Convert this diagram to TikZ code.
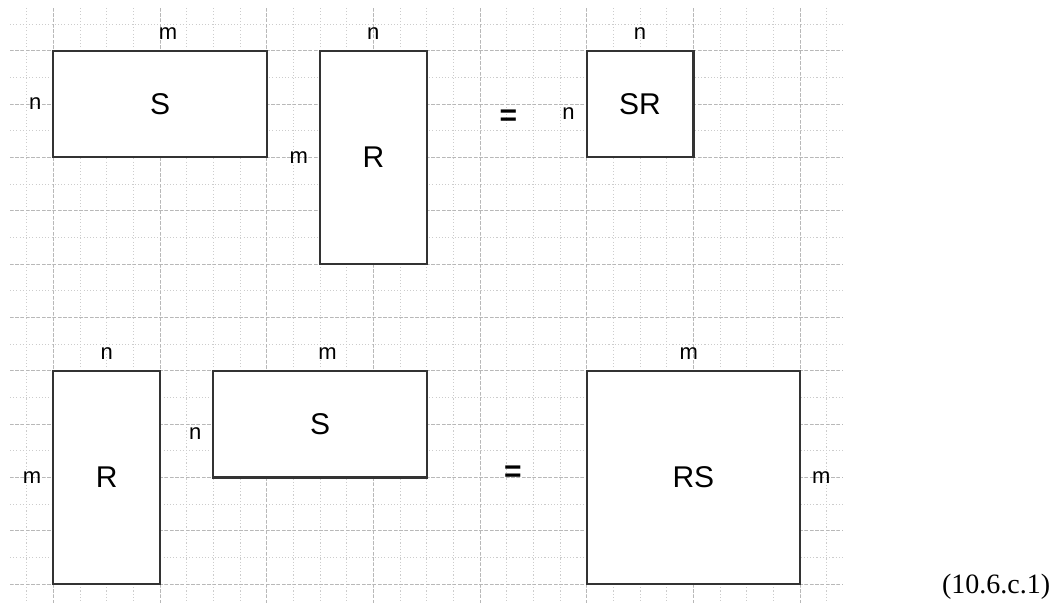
\documentclass[tikz,border=0pt]{standalone}
\usepackage{fontspec}
\setmainfont{Liberation Sans}
\newfontfamily\eqnfont{Liberation Serif}
\usepackage{tikz}
\usetikzlibrary{positioning}

\begin{document}
\begin{tikzpicture}[x=20pt,y=-20pt,
    mat/.style={draw=black!80, line width=1.7pt, fill=white, inner sep=0pt,
        font=\fontsize{22.5}{22.5}\selectfont},
    dim/.style={inner sep=0pt, text height=8.6pt, text depth=0pt,
        font=\fontsize{16.5}{16.5}\selectfont},
    eqsign/.style={inner sep=0pt, font=\fontsize{22.5}{22.5}\selectfont\bfseries},
    minorline/.style={black!20, line width=0.6pt, dash pattern=on 0.8pt off 1.6pt},
    majorline/.style={black!28, line width=0.6pt, dash pattern=on 2.5pt off 1.5pt}]
    \useasboundingbox (0,-0.9) rectangle (39.86,21.9);
    % Grid
    \foreach \i in {1,...,31}
        \draw[minorline] (\i,-0.6) -- (\i,21.7);
    \foreach \j in {0,...,21}
        \draw[minorline] (0.375,\j) -- (31.6,\j);
    \foreach \i in {2,6,...,30}
        \draw[majorline] (\i,-0.6) -- (\i,21.7);
    \foreach \j in {1,3,...,21}
        \draw[majorline] (0.375,\j) -- (31.6,\j);
    %
    % First product: S times R
    \node[mat, minimum width=160pt, minimum height=80pt] (S1) at (6,3) {S};
    \node[mat, minimum width=80pt, minimum height=160pt] (R1) at (14,5) {R};
    \node[eqsign] (eq1) at (19.06,3.5) {=};
    \node[mat, minimum width=80pt, minimum height=80pt] (SR) at (24,3) {SR};
    % Dimensions
    \node[dim, above=7.5pt of S1.north, xshift=6pt] (S1m) {m};
    \node[dim, left=8pt of S1.west] (S1n) {n};
    \node[dim, above=7.5pt of R1.north] (R1n) {n};
    \node[dim, left=8pt of R1.west] (R1m) {m};
    \node[dim, above=7.5pt of SR.north] (SRn1) {n};
    \node[dim, left=8pt of SR.west, yshift=-7.2pt] (SRn2) {n};
    %
    % Second product: R times S
    \node[mat, minimum width=80pt, minimum height=160pt] (R2) at (4,17) {R};
    \node[mat, minimum width=160pt, minimum height=80pt] (S2) at (12,15) {S};
    \node[eqsign] (eq2) at (19.23,16.88) {=};
    \node[mat, minimum width=160pt, minimum height=160pt] (RS) at (26,17) {RS};
    % Dimensions
    \node[dim, above=7.5pt of R2.north] (R2n) {n};
    \node[dim, left=8pt of R2.west] (R2m) {m};
    \node[dim, above=7.5pt of S2.north, xshift=5.7pt] (S2m) {m};
    \node[dim, left=8pt of S2.west, yshift=-7.5pt] (S2n) {n};
    \node[dim, above=7.5pt of RS.north, xshift=-3.5pt] (RSm1) {m};
    \node[dim, right=8pt of RS.east] (RSm2) {m};
    %
    % Equation number
    \node[inner sep=0pt, font=\eqnfont\fontsize{21}{21}\selectfont] (tag) at (37.35,21.09) {(10.6.c.1)};
\end{tikzpicture}
\end{document}
